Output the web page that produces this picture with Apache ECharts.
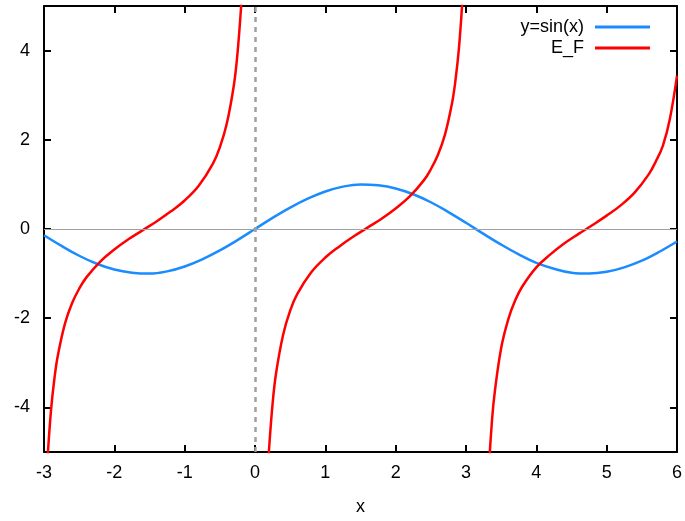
<!DOCTYPE html>
<html>
<head>
<meta charset="utf-8">
<script src="https://cdn.jsdelivr.net/npm/echarts@6/dist/echarts.min.js"></script>
<style>
  html, body { margin: 0; padding: 0; background: #fff; }
  #chart { width: 685px; height: 521px; }
</style>
</head>
<body>
<div id="chart"></div>
<script>
var xTicks = [-3, -2, -1, 0, 1, 2, 3, 4, 5, 6];
var yTicks = [-4, -2, 0, 2, 4];

// blue curve, read every 0.25
var sinX = [-3, -2.75, -2.5, -2.25, -2, -1.75, -1.5, -1.25, -1, -0.75, -0.5, -0.25, 0,
            0.25, 0.5, 0.75, 1, 1.25, 1.5, 1.75, 2, 2.25, 2.5, 2.75, 3, 3.25, 3.5, 3.75,
            4, 4.25, 4.5, 4.75, 5, 5.25, 5.5, 5.75, 6];
var sinY = [-0.14, -0.38, -0.6, -0.78, -0.91, -0.98, -1.0, -0.95, -0.84, -0.68, -0.48, -0.25, 0,
            0.25, 0.48, 0.68, 0.84, 0.95, 1.0, 0.98, 0.91, 0.78, 0.6, 0.38, 0.14, -0.11, -0.35, -0.57,
            -0.76, -0.89, -0.98, -1.0, -0.96, -0.86, -0.71, -0.51, -0.28];

// red curve, three branches
var efX1 = [-2.95, -2.9, -2.85, -2.8, -2.7, -2.6, -2.5, -2.4, -2.2, -2.0, -1.8, -1.6, -1.4,
            -1.2, -1.0, -0.8, -0.6, -0.5, -0.4, -0.3, -0.25, -0.2, -0.18];
var efY1 = [-5.15, -4.06, -3.33, -2.81, -2.11, -1.66, -1.34, -1.09, -0.73, -0.46, -0.23, -0.03, 0.17,
            0.39, 0.64, 0.97, 1.46, 1.83, 2.37, 3.23, 3.92, 4.93, 5.5];
var efX2 = [0.18, 0.2, 0.25, 0.3, 0.4, 0.5, 0.6, 0.8, 1.0, 1.2, 1.4, 1.6, 1.8, 2.0, 2.2,
            2.4, 2.5, 2.6, 2.7, 2.8, 2.85, 2.9, 2.95];
var efY2 = [-5.5, -4.93, -3.92, -3.23, -2.37, -1.83, -1.46, -0.97, -0.64, -0.39, -0.17, 0.03, 0.23, 0.46, 0.73,
            1.09, 1.34, 1.66, 2.11, 2.81, 3.33, 4.06, 5.15];
var efX3 = [3.32, 3.35, 3.4, 3.5, 3.6, 3.7, 3.8, 4.0, 4.2, 4.4, 4.6, 4.8, 5.0, 5.2, 5.4,
            5.6, 5.7, 5.8, 5.9, 6.0];
var efY3 = [-5.55, -4.73, -3.78, -2.67, -2.03, -1.6, -1.29, -0.86, -0.57, -0.32, -0.11, 0.09, 0.3, 0.53, 0.82,
            1.23, 1.52, 1.87, 2.48, 3.44];

function pairs(xs, ys) {
    var out = [];
    for (var i = 0; i < xs.length; i++) out.push([xs[i], ys[i]]);
    return out;
}

var efData = pairs(efX1, efY1).concat([[0, null]], pairs(efX2, efY2), [[3.1, null]], pairs(efX3, efY3));

var chart = echarts.init(document.getElementById('chart'));
var font = 'Liberation Sans, Arial, sans-serif';

function makeAxis(extra, ticks) {
    return Object.assign({
        type: 'value',
        axisLine: { show: true, onZero: false, lineStyle: { color: '#000', width: 2 } },
        axisTick: { show: true, inside: true, length: 7, customValues: ticks, lineStyle: { color: '#000', width: 2 } },
        splitLine: { show: false }
    }, extra);
}

var option = {
    animation: false,
    backgroundColor: '#fff',
    grid: { left: 44, right: 8, top: 6, bottom: 68 },
    legend: {
        orient: 'vertical',
        right: 30,
        top: 13,
        align: 'right',
        itemWidth: 55,
        itemHeight: 3,
        itemGap: 3,
        icon: 'rect',
        textStyle: { fontFamily: font, fontSize: 18, color: '#000', padding: [0, 6, 0, 0] },
        data: ['y=sin(x)', 'E_F']
    },
    xAxis: [
        makeAxis({
            min: -3, max: 6, position: 'bottom',
            name: 'x', nameLocation: 'middle', nameGap: 46,
            nameTextStyle: { fontFamily: font, fontSize: 18, color: '#000' },
            axisLabel: { margin: 12, fontFamily: font, fontSize: 18, color: '#000', customValues: xTicks }
        }, xTicks),
        makeAxis({
            min: -3, max: 6, position: 'top',
            axisLabel: { show: false }
        }, xTicks)
    ],
    yAxis: [
        makeAxis({
            min: -5, max: 5, position: 'left',
            axisLabel: { margin: 14, fontFamily: font, fontSize: 18, color: '#000', customValues: yTicks }
        }, yTicks),
        makeAxis({
            min: -5, max: 5, position: 'right',
            axisLabel: { show: false }
        }, yTicks)
    ],
    series: [
        {
            name: 'y=sin(x)',
            type: 'line',
            smooth: 0.4,
            showSymbol: false,
            color: '#1a8cff',
            lineStyle: { width: 2.5 },
            data: pairs(sinX, sinY),
            markLine: {
                silent: true,
                symbol: 'none',
                label: { show: false },
                data: [
                    { yAxis: 0, lineStyle: { color: '#a0a0a0', width: 1, type: 'solid' } },
                    { xAxis: 0, lineStyle: { color: '#a0a0a0', width: 2.5, type: [5, 5] } }
                ]
            },
            z: 3
        },
        {
            name: 'E_F',
            type: 'line',
            smooth: 0.4,
            showSymbol: false,
            connectNulls: false,
            color: '#ff0000',
            lineStyle: { width: 2.5 },
            data: efData,
            z: 4
        }
    ]
};
chart.setOption(option);
</script>
</body>
</html>
